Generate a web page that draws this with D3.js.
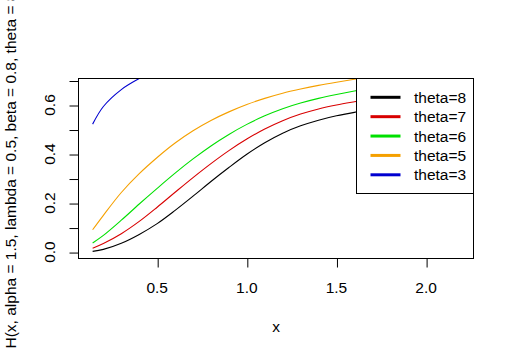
<!DOCTYPE html>
<html>
<head>
<meta charset="utf-8">
<script src="https://cdn.jsdelivr.net/npm/d3@7"></script>
<style>
  html, body { margin: 0; padding: 0; background: #fff; }
  svg { display: block; font-family: "Liberation Sans", Arial, sans-serif; }
</style>
</head>
<body>
<svg id="chart" width="514" height="356"></svg>
<script>
// ---- data ----
const xs = [0.14, 0.2, 0.3, 0.4, 0.5, 0.6, 0.7, 0.8, 0.9, 1.0, 1.1, 1.2, 1.3, 1.4, 1.5, 1.6, 1.7, 1.8, 1.9, 2.0, 2.1, 2.18];
const theta8 = [0.003, 0.011, 0.036, 0.072, 0.116, 0.170, 0.228, 0.288, 0.345, 0.399, 0.446, 0.485, 0.515, 0.538, 0.556, 0.570, 0.589, 0.609, 0.628, 0.648, 0.667, 0.683];
const theta7 = [0.016, 0.035, 0.075, 0.125, 0.183, 0.244, 0.304, 0.361, 0.414, 0.461, 0.502, 0.536, 0.563, 0.584, 0.600, 0.613, 0.625, 0.638, 0.652, 0.665, 0.678, 0.690];
const theta6 = [0.037, 0.068, 0.130, 0.196, 0.260, 0.322, 0.380, 0.433, 0.480, 0.521, 0.556, 0.585, 0.608, 0.627, 0.643, 0.657, 0.669, 0.680, 0.690, 0.699, 0.707, 0.713];
const theta5 = [0.091, 0.150, 0.243, 0.320, 0.386, 0.445, 0.495, 0.537, 0.572, 0.602, 0.627, 0.648, 0.665, 0.680, 0.693, 0.705, 0.716, 0.726, 0.735, 0.743, 0.750, 0.756];
const theta3 = [0.522, 0.594, 0.663, 0.708, 0.742, 0.770, 0.790, 0.810, 0.826, 0.840, 0.852, 0.862, 0.871, 0.879, 0.886, 0.892, 0.898, 0.903, 0.908, 0.912, 0.916, 0.919];

const seriesNames = ["theta=8", "theta=7", "theta=6", "theta=5", "theta=3"];
const seriesValues = [theta8, theta7, theta6, theta5, theta3];
const seriesColors = ["#000000", "#d80000", "#00e000", "#f5a000", "#0000d0"];

const xTicks = [0.5, 1.0, 1.5, 2.0];
const xTickLabels = ["0.5", "1.0", "1.5", "2.0"];
const yTicks = [0.0, 0.1, 0.2, 0.3, 0.4, 0.5, 0.6, 0.7];
const yTickLabels = ["0.0", "", "0.2", "", "0.4", "", "0.6", ""];

const xLabel = "x";
const yLabel = "H(x, alpha = 1.5, lambda = 0.5, beta = 0.8, theta = 8)";

// ---- layout ----
const W = 514, H = 356;
const plot = { left: 78, right: 473, top: 78, bottom: 258 };
const FONT = 15.5;

const svg = d3.select("#chart");

// R-style 4% expanded domains (y from the first plotted series)
const xe = d3.extent(xs), xp = (xe[1] - xe[0]) * 0.04;
const ye = d3.extent(theta8), yp = (ye[1] - ye[0]) * 0.04;
const x = d3.scaleLinear().domain([xe[0] - xp, xe[1] + xp]).range([plot.left, plot.right]);
const y = d3.scaleLinear().domain([ye[0] - yp, ye[1] + yp]).range([plot.bottom, plot.top]);

svg.append("rect").attr("width", W).attr("height", H).attr("fill", "#fff");

// clip
svg.append("clipPath").attr("id", "clip")
  .append("rect")
  .attr("x", plot.left).attr("y", plot.top)
  .attr("width", plot.right - plot.left).attr("height", plot.bottom - plot.top);

// curves
const line = d3.line().x(d => x(d[0])).y(d => y(d[1])).curve(d3.curveCatmullRom.alpha(0.5));
const curves = svg.append("g").attr("clip-path", "url(#clip)");
seriesValues.forEach((vals, i) => {
  curves.append("path")
    .datum(xs.map((xv, j) => [xv, vals[j]]))
    .attr("d", line)
    .attr("fill", "none")
    .attr("stroke", seriesColors[i])
    .attr("stroke-width", 1.1);
});

// axes
const xAxis = d3.axisBottom(x).tickValues(xTicks).tickSize(9).tickFormat("");
const gx = svg.append("g").attr("transform", `translate(0,${plot.bottom + 0.5})`).call(xAxis);
gx.select(".domain").remove();
gx.selectAll("line").attr("stroke", "#000").attr("stroke-width", 1).attr("transform", "translate(0.5,0)");

const yAxis = d3.axisLeft(y).tickValues(yTicks).tickSize(9).tickFormat("");
const gy = svg.append("g").attr("transform", `translate(${plot.left + 0.5},0)`).call(yAxis);
gy.select(".domain").remove();
gy.selectAll("line").attr("stroke", "#000").attr("stroke-width", 1).attr("transform", "translate(0,0.5)");

svg.append("g").selectAll("text").data(xTicks).join("text")
  .attr("x", d => x(d))
  .attr("y", 293)
  .attr("text-anchor", "middle")
  .attr("font-size", FONT)
  .attr("fill", "#000")
  .text((d, i) => xTickLabels[i]);

svg.append("g").selectAll("text").data(yTicks).join("text")
  .attr("transform", d => `translate(54.5,${y(d)}) rotate(-90)`)
  .attr("text-anchor", "middle")
  .attr("font-size", FONT)
  .attr("fill", "#000")
  .text((d, i) => yTickLabels[i]);

// box
svg.append("rect")
  .attr("x", plot.left + 0.5).attr("y", plot.top + 0.5)
  .attr("width", plot.right - plot.left).attr("height", plot.bottom - plot.top)
  .attr("fill", "none").attr("stroke", "#000").attr("stroke-width", 1);

// axis titles
svg.append("text")
  .attr("x", (plot.left + plot.right) / 2 + 0.5).attr("y", 332)
  .attr("text-anchor", "middle").attr("font-size", FONT).attr("fill", "#000")
  .text(xLabel);

svg.append("text")
  .attr("transform", `translate(16,${(plot.top + plot.bottom) / 2}) rotate(-90)`)
  .attr("text-anchor", "middle").attr("font-size", FONT).attr("fill", "#000")
  .text(yLabel);

// legend
const leg = { left: 356, top: plot.top, right: plot.right, bottom: 193 };
svg.append("rect")
  .attr("x", leg.left + 0.5).attr("y", leg.top + 0.5)
  .attr("width", leg.right - leg.left).attr("height", leg.bottom - leg.top)
  .attr("fill", "#fff").attr("stroke", "#000").attr("stroke-width", 1);

const rowY = d3.scalePoint().domain(seriesNames).range([97.3, 174.8]);
const lg = svg.append("g");
seriesNames.forEach((name, i) => {
  const yy = rowY(name);
  lg.append("line")
    .attr("x1", 370.5).attr("x2", 400.5)
    .attr("y1", yy).attr("y2", yy)
    .attr("stroke", seriesColors[i]).attr("stroke-width", 3);
  lg.append("text")
    .attr("x", 414).attr("y", yy + 5.5)
    .attr("font-size", FONT).attr("fill", "#000")
    .text(name);
});
</script>
</body>
</html>
